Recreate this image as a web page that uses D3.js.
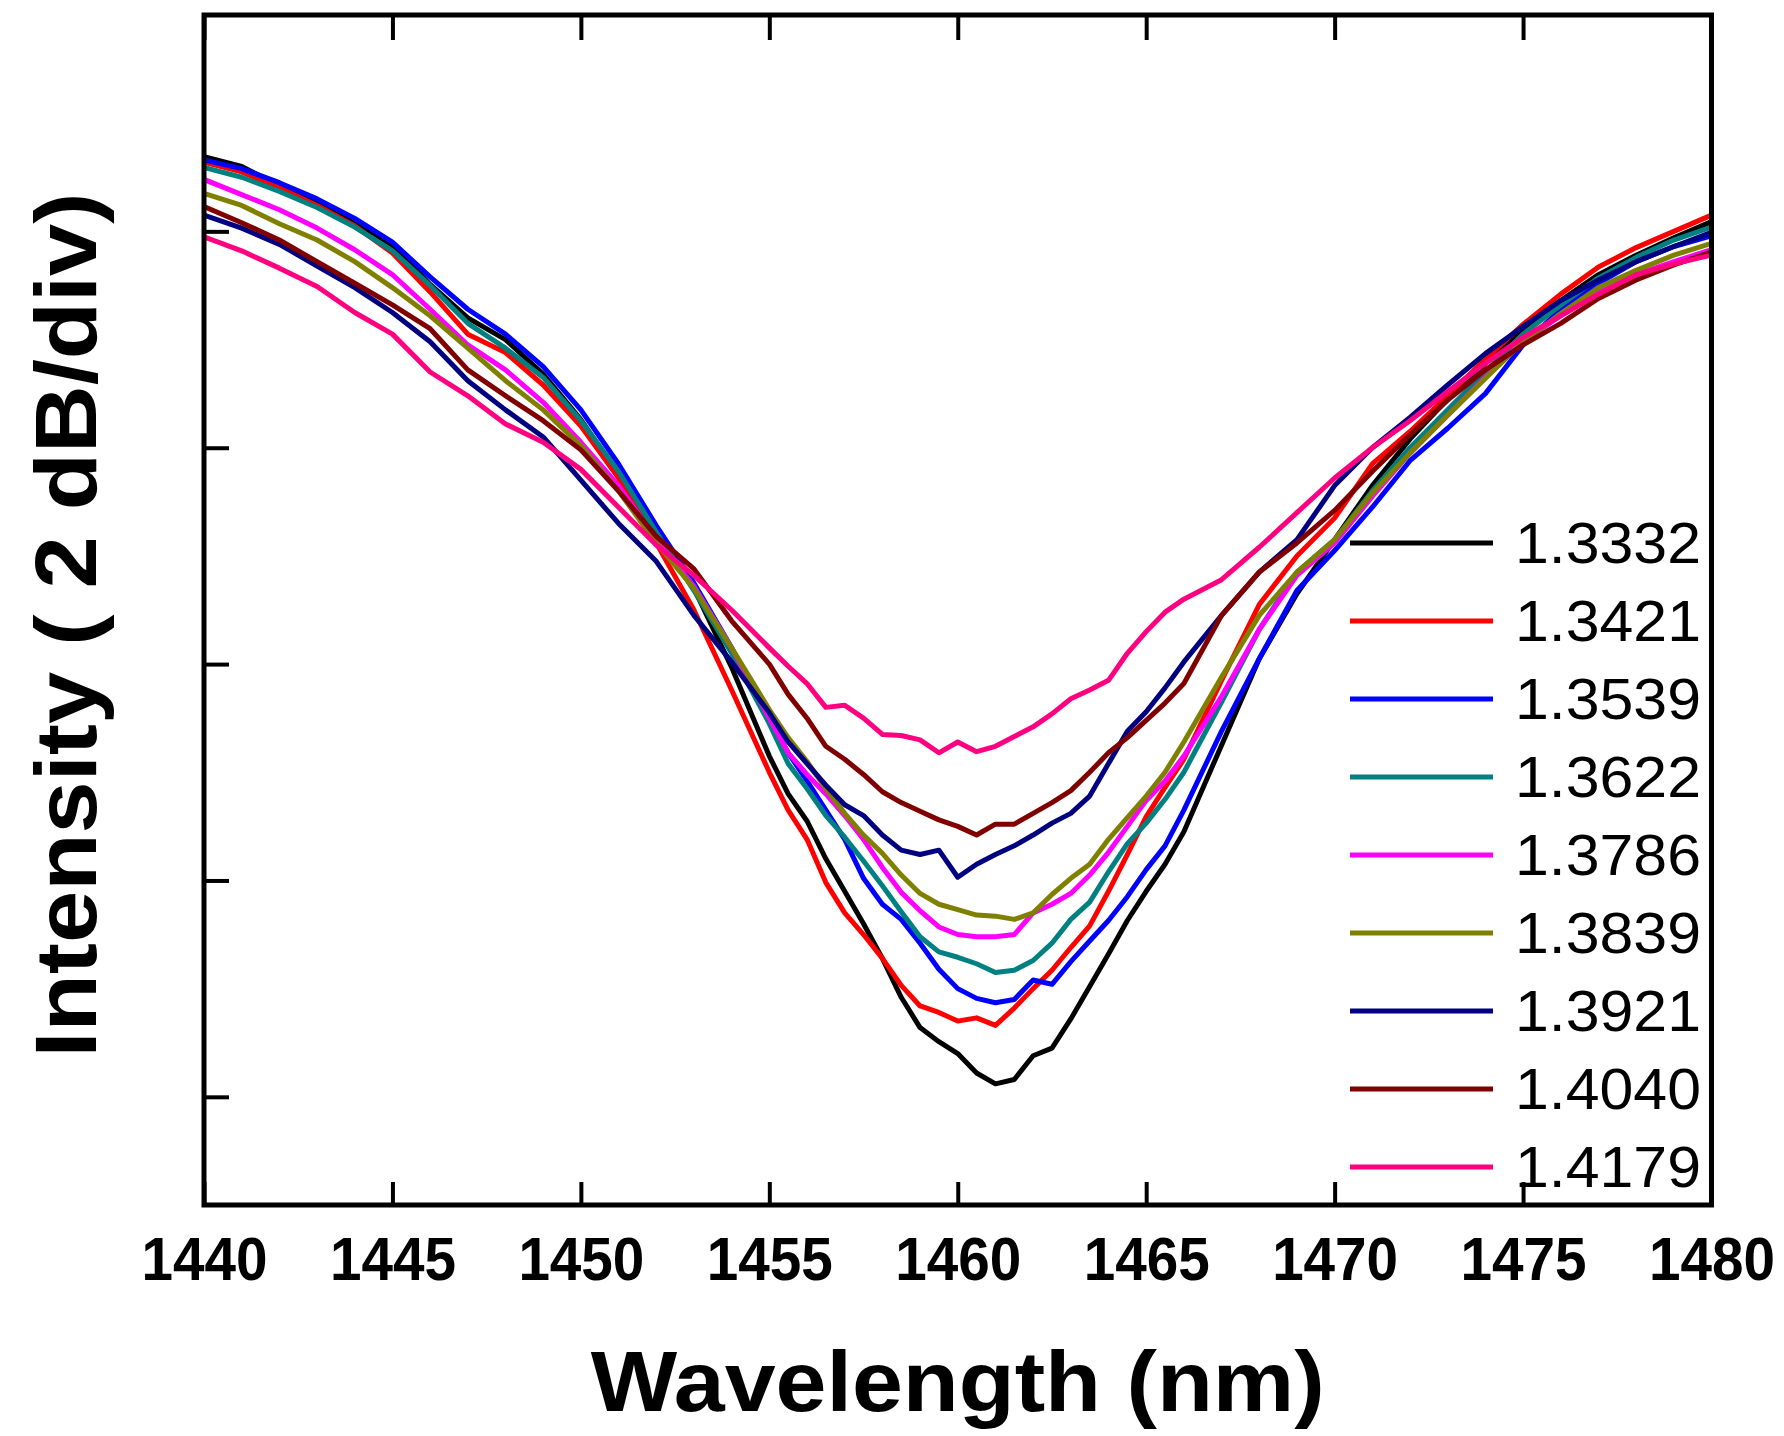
<!doctype html>
<html lang='en'>
<head>
  <meta charset="utf-8">
  <script src="https://d3js.org/d3.v7.min.js"></script>
  <title>Intensity vs Wavelength</title>
  <style>
  body {
    margin: 0;
    background-color: white;
  }
  svg {
    display: block;
    font-family: Arial, "Liberation Sans", sans-serif;
  }
  </style>
</head>
<body>
<div id='chart'></div>
<script>
// wavelength grid (nm), 1 nm steps on the flanks, 0.5 nm across the dip
const wavelength = [1440,1441,1442,1443,1444,1445,1446,1447,1448,1449,1450,1451,1452,1453,1454,
  1455,1455.5,1456,1456.5,1457,1457.5,1458,1458.5,1459,1459.5,1460,1460.5,1461,1461.5,1462,1462.5,1463,1463.5,1464,1464.5,1465,1465.5,1466,
  1467,1468,1469,1470,1471,1472,1473,1474,1475,1476,1477,1478,1479,1480];

// relative intensity (dB), one array per refractive index
const n13332 = [-1.31,-1.40,-1.58,-1.74,-1.91,-2.13,-2.49,-2.80,-3.00,-3.32,-3.74,-4.25,-4.78,-5.30,-6.03,
  -6.85,-7.20,-7.45,-7.80,-8.10,-8.40,-8.72,-9.08,-9.36,-9.49,-9.60,-9.78,-9.88,-9.84,-9.62,-9.55,-9.28,-8.98,-8.68,-8.37,-8.10,-7.85,-7.55,
  -6.75,-5.95,-5.35,-4.85,-4.35,-3.92,-3.55,-3.22,-2.90,-2.64,-2.40,-2.22,-2.06,-1.91];
const n13421 = [-1.36,-1.45,-1.60,-1.76,-1.95,-2.20,-2.56,-2.95,-3.12,-3.42,-3.80,-4.28,-4.88,-5.50,-6.24,
  -7.00,-7.35,-7.62,-8.02,-8.30,-8.50,-8.72,-8.97,-9.16,-9.22,-9.30,-9.27,-9.34,-9.18,-9.00,-8.83,-8.62,-8.42,-8.10,-7.76,-7.41,-7.14,-6.88,
  -6.15,-5.45,-5.00,-4.65,-4.15,-3.85,-3.52,-3.18,-2.86,-2.58,-2.33,-2.15,-2.00,-1.85];
const n13539 = [-1.34,-1.42,-1.55,-1.70,-1.88,-2.10,-2.42,-2.72,-2.95,-3.25,-3.65,-4.15,-4.72,-5.25,-5.85,
  -6.50,-6.82,-7.08,-7.35,-7.62,-7.98,-8.22,-8.36,-8.58,-8.82,-9.00,-9.09,-9.13,-9.10,-8.92,-8.96,-8.75,-8.56,-8.37,-8.15,-7.90,-7.68,-7.35,
  -6.62,-5.95,-5.32,-4.95,-4.55,-4.12,-3.82,-3.50,-3.05,-2.72,-2.48,-2.28,-2.14,-2.04];
const n13622 = [-1.41,-1.50,-1.63,-1.78,-1.96,-2.18,-2.50,-2.85,-3.08,-3.35,-3.75,-4.22,-4.78,-5.32,-5.90,
  -6.55,-6.92,-7.15,-7.40,-7.60,-7.82,-8.05,-8.29,-8.52,-8.66,-8.71,-8.77,-8.85,-8.83,-8.74,-8.58,-8.36,-8.20,-7.92,-7.66,-7.47,-7.25,-7.00,
  -6.35,-5.68,-5.15,-4.85,-4.40,-4.00,-3.65,-3.30,-2.95,-2.68,-2.43,-2.24,-2.08,-1.96];
const n13786 = [-1.52,-1.66,-1.80,-1.97,-2.17,-2.40,-2.72,-3.05,-3.28,-3.58,-3.95,-4.35,-4.85,-5.28,-5.85,
  -6.50,-6.82,-7.02,-7.20,-7.40,-7.62,-7.88,-8.11,-8.28,-8.43,-8.50,-8.52,-8.52,-8.50,-8.30,-8.22,-8.12,-7.95,-7.74,-7.50,-7.26,-7.08,-6.85,
  -6.30,-5.68,-5.18,-4.88,-4.45,-4.05,-3.70,-3.35,-3.02,-2.78,-2.55,-2.40,-2.28,-2.17];
const n13839 = [-1.65,-1.76,-1.93,-2.08,-2.28,-2.52,-2.78,-3.08,-3.38,-3.65,-3.98,-4.40,-4.88,-5.30,-5.85,
  -6.42,-6.68,-6.90,-7.15,-7.38,-7.58,-7.75,-7.95,-8.12,-8.22,-8.27,-8.32,-8.33,-8.36,-8.30,-8.13,-7.98,-7.85,-7.62,-7.42,-7.22,-7.00,-6.72,
  -6.12,-5.55,-5.15,-4.85,-4.42,-4.05,-3.70,-3.36,-3.02,-2.76,-2.52,-2.36,-2.22,-2.11];
const n13921 = [-1.85,-1.97,-2.12,-2.32,-2.52,-2.75,-3.02,-3.38,-3.65,-3.90,-4.30,-4.70,-5.05,-5.55,-5.98,
  -6.45,-6.72,-6.92,-7.12,-7.30,-7.40,-7.58,-7.72,-7.76,-7.72,-7.97,-7.85,-7.76,-7.68,-7.58,-7.47,-7.38,-7.22,-6.92,-6.62,-6.44,-6.22,-5.98,
  -5.55,-5.15,-4.85,-4.35,-4.00,-3.72,-3.42,-3.13,-2.88,-2.64,-2.45,-2.28,-2.14,-2.01];
const n14040 = [-1.77,-1.92,-2.08,-2.28,-2.48,-2.68,-2.90,-3.28,-3.52,-3.75,-4.02,-4.40,-4.82,-5.12,-5.60,
  -6.00,-6.28,-6.50,-6.76,-6.88,-7.02,-7.18,-7.28,-7.36,-7.44,-7.50,-7.58,-7.48,-7.48,-7.38,-7.28,-7.17,-7.00,-6.82,-6.68,-6.52,-6.36,-6.18,
  -5.55,-5.15,-4.88,-4.58,-4.22,-3.88,-3.56,-3.28,-3.05,-2.85,-2.62,-2.45,-2.31,-2.19];
const n14179 = [-2.05,-2.18,-2.34,-2.51,-2.75,-2.95,-3.30,-3.52,-3.78,-3.95,-4.20,-4.55,-4.90,-5.18,-5.50,
  -5.85,-6.02,-6.18,-6.40,-6.38,-6.50,-6.65,-6.66,-6.70,-6.82,-6.72,-6.81,-6.76,-6.67,-6.58,-6.46,-6.32,-6.24,-6.15,-5.90,-5.70,-5.52,-5.40,
  -5.22,-4.92,-4.60,-4.28,-4.00,-3.75,-3.48,-3.22,-2.98,-2.78,-2.58,-2.40,-2.30,-2.22];

const labels = ['1.3332','1.3421','1.3539','1.3622','1.3786','1.3839','1.3921','1.4040','1.4179'];
const series = [n13332, n13421, n13539, n13622, n13786, n13839, n13921, n14040, n14179];
const colors = ['#000000','#ff0000','#0000ff','#008080','#ff00ff','#808000','#000080','#800000','#ff0080'];

const xTicks = [1440,1445,1450,1455,1460,1465,1470,1475,1480];
const yTicks = [-10,-8,-6,-4,-2];

const wsvg = 1784, hsvg = 1436;
const plotLeft = 204, plotRight = 1711.5, plotTop = 15, plotBottom = 1205;

const svg = d3.select('#chart')
  .append('svg')
  .attr('width', wsvg)
  .attr('height', hsvg);

svg.append('rect').attr('width', wsvg).attr('height', hsvg).attr('fill', 'white');

const xScale = d3.scaleLinear().domain([1440, 1480]).range([plotLeft, plotRight]);
const yScale = d3.scaleLinear().domain([-11, 0]).range([plotBottom, plotTop]);

svg.append('clipPath').attr('id', 'plot')
  .append('rect')
  .attr('x', plotLeft).attr('y', plotTop)
  .attr('width', plotRight - plotLeft).attr('height', plotBottom - plotTop);

const line = d3.line()
  .x((d, i) => xScale(wavelength[i]))
  .y(d => yScale(d));

svg.append('g')
  .attr('clip-path', 'url(#plot)')
  .selectAll('path')
  .data(series)
  .enter()
  .append('path')
  .attr('d', line)
  .attr('fill', 'none')
  .attr('stroke', (d, i) => colors[i])
  .attr('stroke-width', 5)
  .attr('stroke-linejoin', 'round');

// inward ticks on bottom, top and left
const xAxis = svg.append('g')
  .attr('transform', 'translate(0,' + plotBottom + ')')
  .call(d3.axisBottom(xScale).tickValues(xTicks).tickSize(-23).tickSizeOuter(0).tickFormat(d3.format('d')));
xAxis.select('.domain').remove();
xAxis.selectAll('line').attr('stroke', 'black').attr('stroke-width', 4);
xAxis.selectAll('text')
  .attr('y', 75)
  .attr('dy', 0)
  .attr('fill', 'black')
  .style('font-size', '61px')
  .style('font-weight', 'bold')
  .attr('textLength', 126)
  .attr('lengthAdjust', 'spacingAndGlyphs');

const topAxis = svg.append('g')
  .attr('transform', 'translate(0,' + plotTop + ')')
  .call(d3.axisTop(xScale).tickValues(xTicks).tickSize(-25).tickSizeOuter(0).tickFormat(''));
topAxis.select('.domain').remove();
topAxis.selectAll('line').attr('stroke', 'black').attr('stroke-width', 4);

const yAxis = svg.append('g')
  .attr('transform', 'translate(' + plotLeft + ',0)')
  .call(d3.axisLeft(yScale).tickValues(yTicks).tickSize(-25).tickSizeOuter(0).tickFormat(''));
yAxis.select('.domain').remove();
yAxis.selectAll('line').attr('stroke', 'black').attr('stroke-width', 4);

svg.append('rect')
  .attr('x', plotLeft).attr('y', plotTop)
  .attr('width', plotRight - plotLeft).attr('height', plotBottom - plotTop)
  .attr('fill', 'none')
  .attr('stroke', 'black')
  .attr('stroke-width', 5);

// legend
const legendY = i => 543 + i * 78;
const legend = svg.append('g');
legend.selectAll('line')
  .data(labels)
  .enter()
  .append('line')
  .attr('x1', 1350).attr('x2', 1493)
  .attr('y1', (d, i) => legendY(i)).attr('y2', (d, i) => legendY(i))
  .attr('stroke', (d, i) => colors[i])
  .attr('stroke-width', 5);
legend.selectAll('text')
  .data(labels)
  .enter()
  .append('text')
  .attr('x', 1515)
  .attr('y', (d, i) => legendY(i) + 20)
  .style('font-size', '57px')
  .attr('textLength', 186)
  .attr('lengthAdjust', 'spacingAndGlyphs')
  .text(d => d);

// axis titles
svg.append('text')
  .attr('x', (plotLeft + plotRight) / 2)
  .attr('y', 1411)
  .attr('text-anchor', 'middle')
  .style('font-size', '86px')
  .style('font-weight', 'bold')
  .attr('textLength', 734)
  .attr('lengthAdjust', 'spacingAndGlyphs')
  .text('Wavelength (nm)');

svg.append('text')
  .attr('transform', 'translate(96,625) rotate(-90)')
  .attr('text-anchor', 'middle')
  .style('font-size', '88px')
  .style('font-weight', 'bold')
  .attr('textLength', 865)
  .attr('lengthAdjust', 'spacingAndGlyphs')
  .text('Intensity ( 2 dB/div)');
</script>
</body>
</html>
